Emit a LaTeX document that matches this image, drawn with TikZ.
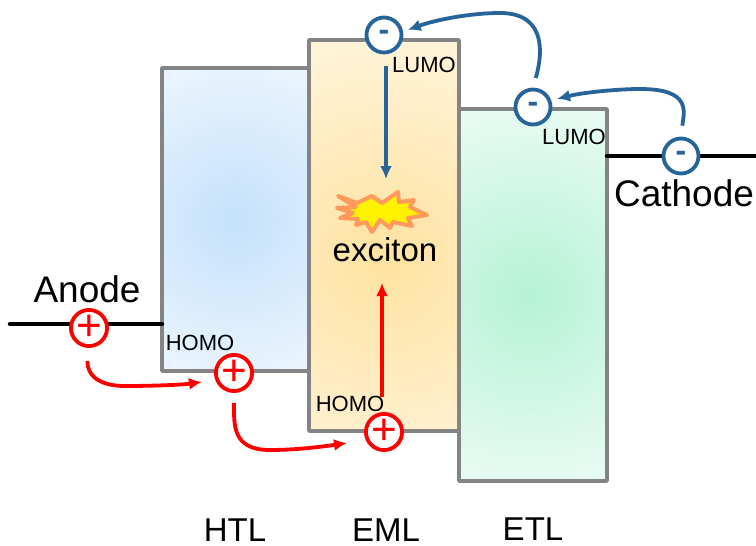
\documentclass[tikz,border=0pt]{standalone}
\usepackage{fontspec}
\setmainfont{Liberation Sans}
\usetikzlibrary{arrows.meta}
\definecolor{layergray}{HTML}{848484}
\definecolor{eblue}{HTML}{26649A}
\definecolor{htlin}{HTML}{C4E1FB}
\definecolor{htlout}{HTML}{F1F8FE}
\definecolor{emlin}{HTML}{FEE2A0}
\definecolor{emlout}{HTML}{FFF6E2}
\definecolor{etlin}{HTML}{B5F2D6}
\definecolor{etlout}{HTML}{EEFCF6}
\definecolor{burstline}{HTML}{FF9A5C}
\tikzset{
  layerbox/.style={draw=layergray,line width=3.5pt,line join=round},
  electrode/.style={line width=4.5pt,line cap=round},
  bigtext/.style={inner sep=0pt,font=\fontsize{37}{37}\selectfont},
  midtext/.style={inner sep=0pt,font=\fontsize{33}{33}\selectfont},
  smalltext/.style={inner sep=0pt,font=\fontsize{22}{22}\selectfont},
  carrier/.style={circle,draw,fill=white,line width=3.8pt,minimum size=35pt,inner sep=0pt},
  hole/.style={carrier,draw=red,text=red,font=\fontsize{44}{44}\selectfont},
  electron/.style={carrier,draw=eblue,text=eblue,font=\bfseries\fontsize{32}{32}\selectfont},
  holearrow/.style={-{Latex[length=13pt,width=12pt]},red,line width=3.8pt},
  elecarrow/.style={-{Latex[length=13pt,width=12pt]},eblue,line width=3.8pt}
}
\begin{document}
\begin{tikzpicture}[x=1pt,y=-1pt]
\useasboundingbox (0,0) rectangle (756,546);
\foreach \xa/\ya/\xb/\yb/\cx/\cy/\rad/\inn/\out in {162/68/309/371/235/220/190/htlin/htlout,309/40/459/431/385/260/260/emlin/emlout,459/109/607/481/530/295/215/etlin/etlout}{
  \begin{scope}
    \clip (\xa,\ya) rectangle (\xb,\yb);
    \fill[\out] (\xa,\ya) rectangle (\xb,\yb);
    \shade[inner color=\inn,outer color=\out] (\cx,\cy) circle (\rad);
  \end{scope}
  \draw[layerbox] (\xa,\ya) rectangle (\xb,\yb);
}
\draw[electrode] (10,324) coordinate (anodeL) -- (162,324) coordinate (anodeR);
\draw[electrode] (607,156) coordinate (cathodeL) -- (760,156) coordinate (cathodeR);
\node[hole] (h1) at (89,328) {+};
\node[hole] (h2) at (234,373) {+};
\node[hole] (h3) at (384,432) {+};
\node[electron] (e1) at (681,156) {-};
\node[electron] (e2) at (533,107) {-};
\node[electron] (e3) at (384,35) {-};
\node[bigtext] (anode) at (87,289) {Anode};
\node[bigtext] (cathode) at (684,193) {Cathode};
\node[midtext] (exciton) at (385,250) {exciton};
\foreach \x/\y/\lab/\nam in {235/530/HTL/htl,386/530/EML/eml,533/529/ETL/etl}{
  \node[midtext] (\nam) at (\x,\y) {\lab};
}
\foreach \x/\y/\lab/\nam in {200/343/HOMO/homoa,350/404/HOMO/homob,424/65/LUMO/lumoa,574/137/LUMO/lumob}{
  \node[smalltext] (\nam) at (\x,\y) {\lab};
}
\draw[fill=yellow,draw=burstline,line width=4pt,line join=round]
  (338,196) -- (357,203) -- (372,196) -- (382,203) -- (398,192) -- (399,202) -- (414,200) -- (410,207)
  -- (427,215) -- (408,218) -- (412,226) -- (393,222) -- (390,228) -- (380,220) -- (372,232) -- (366,222)
  -- (356,225) -- (358,219) -- (340,218) -- (353,213) -- (337,208) -- (356,207) -- cycle;
\coordinate (burst) at (386,179);
\draw[holearrow,shorten <=13pt] (h1.south) .. controls (87,365) and (88,386) .. (125,386) .. controls (150,386) and (180,385) .. (202,382);
\draw[holearrow,shorten <=10pt] (h2.south) .. controls (234,425) and (232,450) .. (270,450) .. controls (295,450) and (320,447) .. (347,443);
\coordinate (excitonB) at (382,283);
\draw[holearrow] (382,397) -- (excitonB);
\draw[elecarrow,shorten <=11pt,shorten >=6pt] (e1.north) .. controls (684,112) and (692,89) .. (640,89) .. controls (620,89) and (585,92) .. (e2.20);
\draw[elecarrow,shorten <=10pt,shorten >=5pt] (e2.north) .. controls (541,60) and (550,13) .. (500,13) .. controls (470,13) and (435,20) .. (e3.10);
\draw[elecarrow] (386,66) -- (burst);
\end{tikzpicture}
\end{document}
